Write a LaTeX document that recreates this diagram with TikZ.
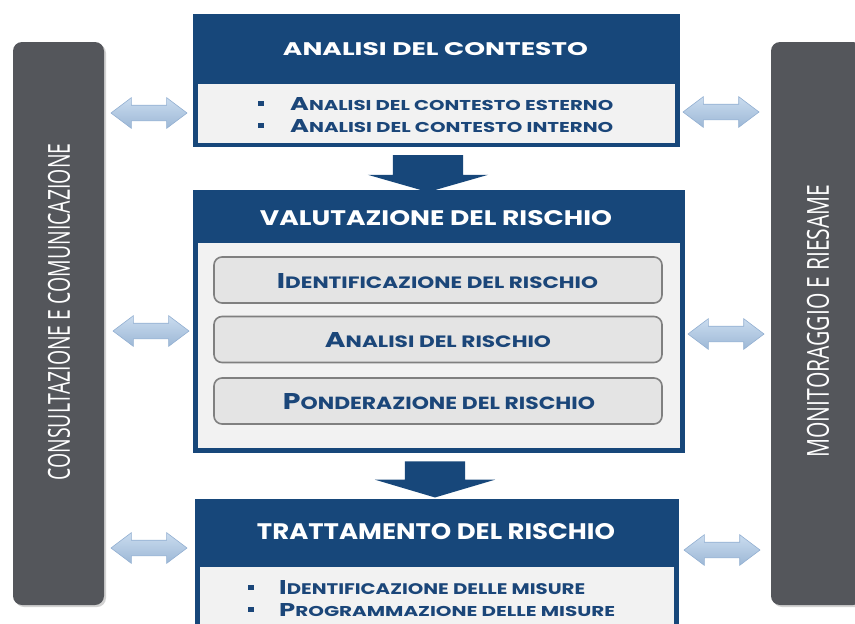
\documentclass[tikz,border=0pt]{standalone}
\usepackage{fontspec}
\setmainfont{Poppins}
\newfontfamily\barfont{Open Sans}
\usepackage{graphicx}
\usetikzlibrary{shapes.arrows,shadows,calc}
\definecolor{blueH}{HTML}{17477A}
\definecolor{blueT}{HTML}{1B4679}
\definecolor{lightF}{HTML}{F2F2F2}
\definecolor{subF}{HTML}{E4E4E4}
\definecolor{subD}{HTML}{808080}
\definecolor{barF}{HTML}{54565B}
\definecolor{arrTop}{HTML}{CADCEF}
\definecolor{arrBot}{HTML}{9DB8D6}
\definecolor{arrDraw}{HTML}{93B0D2}
\newcommand\fsc[2]{{\fontsize{10}{10}\selectfont #1}{\fontsize{7.7}{8}\selectfont #2}}
\newcommand\fitbox[3]{\resizebox{#1pt}{#2pt}{#3}}
\begin{document}
\begin{tikzpicture}[x=1pt,y=-1pt,
  bar/.style={rectangle, rounded corners=9pt, fill=barF, minimum width=91pt, minimum height=563pt,
    drop shadow={shadow xshift=2pt, shadow yshift=-2pt, fill=black!35, opacity=0.5}},
  bluebox/.style={rectangle, fill=blueH, inner sep=0pt},
  lightbox/.style={rectangle, fill=lightF, inner sep=0pt},
  subbox/.style={rectangle, rounded corners=8pt, fill=subF, draw=subD, line width=1.6pt,
    minimum width=448pt, minimum height=46pt, inner sep=0pt},
  headtxt/.style={text=white, inner sep=0pt, anchor=base, font=\bfseries},
  bodytxt/.style={text=blueT, inner sep=0pt, anchor=base, font=\bfseries},
  bullettxt/.style={text=blueT, inner sep=0pt, anchor=base west, font=\bfseries},
  bartxt/.style={text=white, inner sep=0pt, rotate=90, font=\barfont},
  dbl/.style={double arrow, double arrow head extend=7.5pt, double arrow tip angle=74,
    minimum height=76pt, inner sep=0pt,
    top color=arrTop, bottom color=arrBot, draw=arrDraw, line width=0.6pt},
  downarr/.style={single arrow, rotate=-90, inner sep=0pt, fill=blueH}
]
\useasboundingbox (0,0) rectangle (855,624);
\clip (0,0) rectangle (855,624);
\fill[white] (0,0) rectangle (855,624);

% side bars
\node[bar] (lbar) at (58.5,323.5) {};
\node[bar] (rbar) at (816.5,323.5) {};
\node[bartxt] (ltxt) at (59,312) {\fitbox{337}{22}{CONSULTAZIONE E COMUNICAZIONE}};
\node[bartxt] (rtxt) at (818,321) {\fitbox{273}{22}{MONITORAGGIO E RIESAME}};

% top box
\node[bluebox, minimum width=487pt, minimum height=133pt] (top) at (436.5,80.5) {};
\node[lightbox, minimum width=477pt, minimum height=59pt] (topin) at (436.5,113.5) {};
\node[headtxt] (toph) at (435.5,55) {\fitbox{305}{13}{ANALISI DEL CONTESTO}};
\node[bullettxt] (tb1) at (258,110) {\rule[4pt]{6pt}{5pt}\hspace{26pt}\fitbox{323}{13}{\fsc{A}{NALISI DEL CONTESTO ESTERNO}}};
\node[bullettxt] (tb2) at (258,132) {\rule[4pt]{6pt}{5pt}\hspace{26pt}\fitbox{323}{13}{\fsc{A}{NALISI DEL CONTESTO INTERNO}}};

% middle box
\node[bluebox, minimum width=492pt, minimum height=263pt] (mid) at (439,321.5) {};
\node[lightbox, minimum width=482pt, minimum height=205pt] (midin) at (439,345.5) {};
\node[headtxt] (midh) at (436,225) {\fitbox{352}{15}{VALUTAZIONE DEL RISCHIO}};
\node[subbox] (s1) at (438,280) {};
\node[subbox] (s2) at (438,339.5) {};
\node[subbox] (s3) at (438,401) {};
\node[bodytxt] (s1t) at (437.5,288) {\fitbox{321}{15}{\fsc{I}{DENTIFICAZIONE DEL RISCHIO}}};
\node[bodytxt] (s2t) at (438,347) {\fitbox{226}{15}{\fsc{A}{NALISI DEL RISCHIO}}};
\node[bodytxt] (s3t) at (439,409) {\fitbox{312}{16}{\fsc{P}{ONDERAZIONE DEL RISCHIO}}};

% bottom box
\node[bluebox, minimum width=484pt, minimum height=141pt] (bot) at (437,569.5) {};
\node[lightbox, minimum width=474pt, minimum height=73pt] (botin) at (437,603.5) {};
\node[headtxt] (both) at (436,539) {\fitbox{358}{16}{TRATTAMENTO DEL RISCHIO}};
\node[bullettxt] (bb1) at (248,594) {\rule[4pt]{6pt}{5pt}\hspace{25pt}\fitbox{306}{14}{\fsc{I}{DENTIFICAZIONE DELLE MISURE}}};
\node[bullettxt] (bb2) at (248,616) {\rule[4pt]{6pt}{5pt}\hspace{25pt}\fitbox{336}{13}{\fsc{P}{ROGRAMMAZIONE DELLE MISURE}}};

% down arrows
\node[downarr, minimum height=37pt, single arrow head extend=25pt, single arrow tip angle=148] (a1) at (428,168.5) {\rule{0pt}{70pt}};
\node[downarr, minimum height=36pt, single arrow head extend=30pt, single arrow tip angle=147] (a2) at (435,475) {\rule{0pt}{60pt}};

% double arrows
\node[dbl] (dl1) at (149,113) {\rule{0pt}{15pt}};
\node[dbl] (dl2) at (151,331) {\rule{0pt}{15pt}};
\node[dbl] (dl3) at (149,548) {\rule{0pt}{15pt}};
\node[dbl] (dr1) at (721,112) {\rule{0pt}{15pt}};
\node[dbl] (dr2) at (726,334) {\rule{0pt}{15pt}};
\node[dbl] (dr3) at (722,550) {\rule{0pt}{15pt}};
\end{tikzpicture}
\end{document}
